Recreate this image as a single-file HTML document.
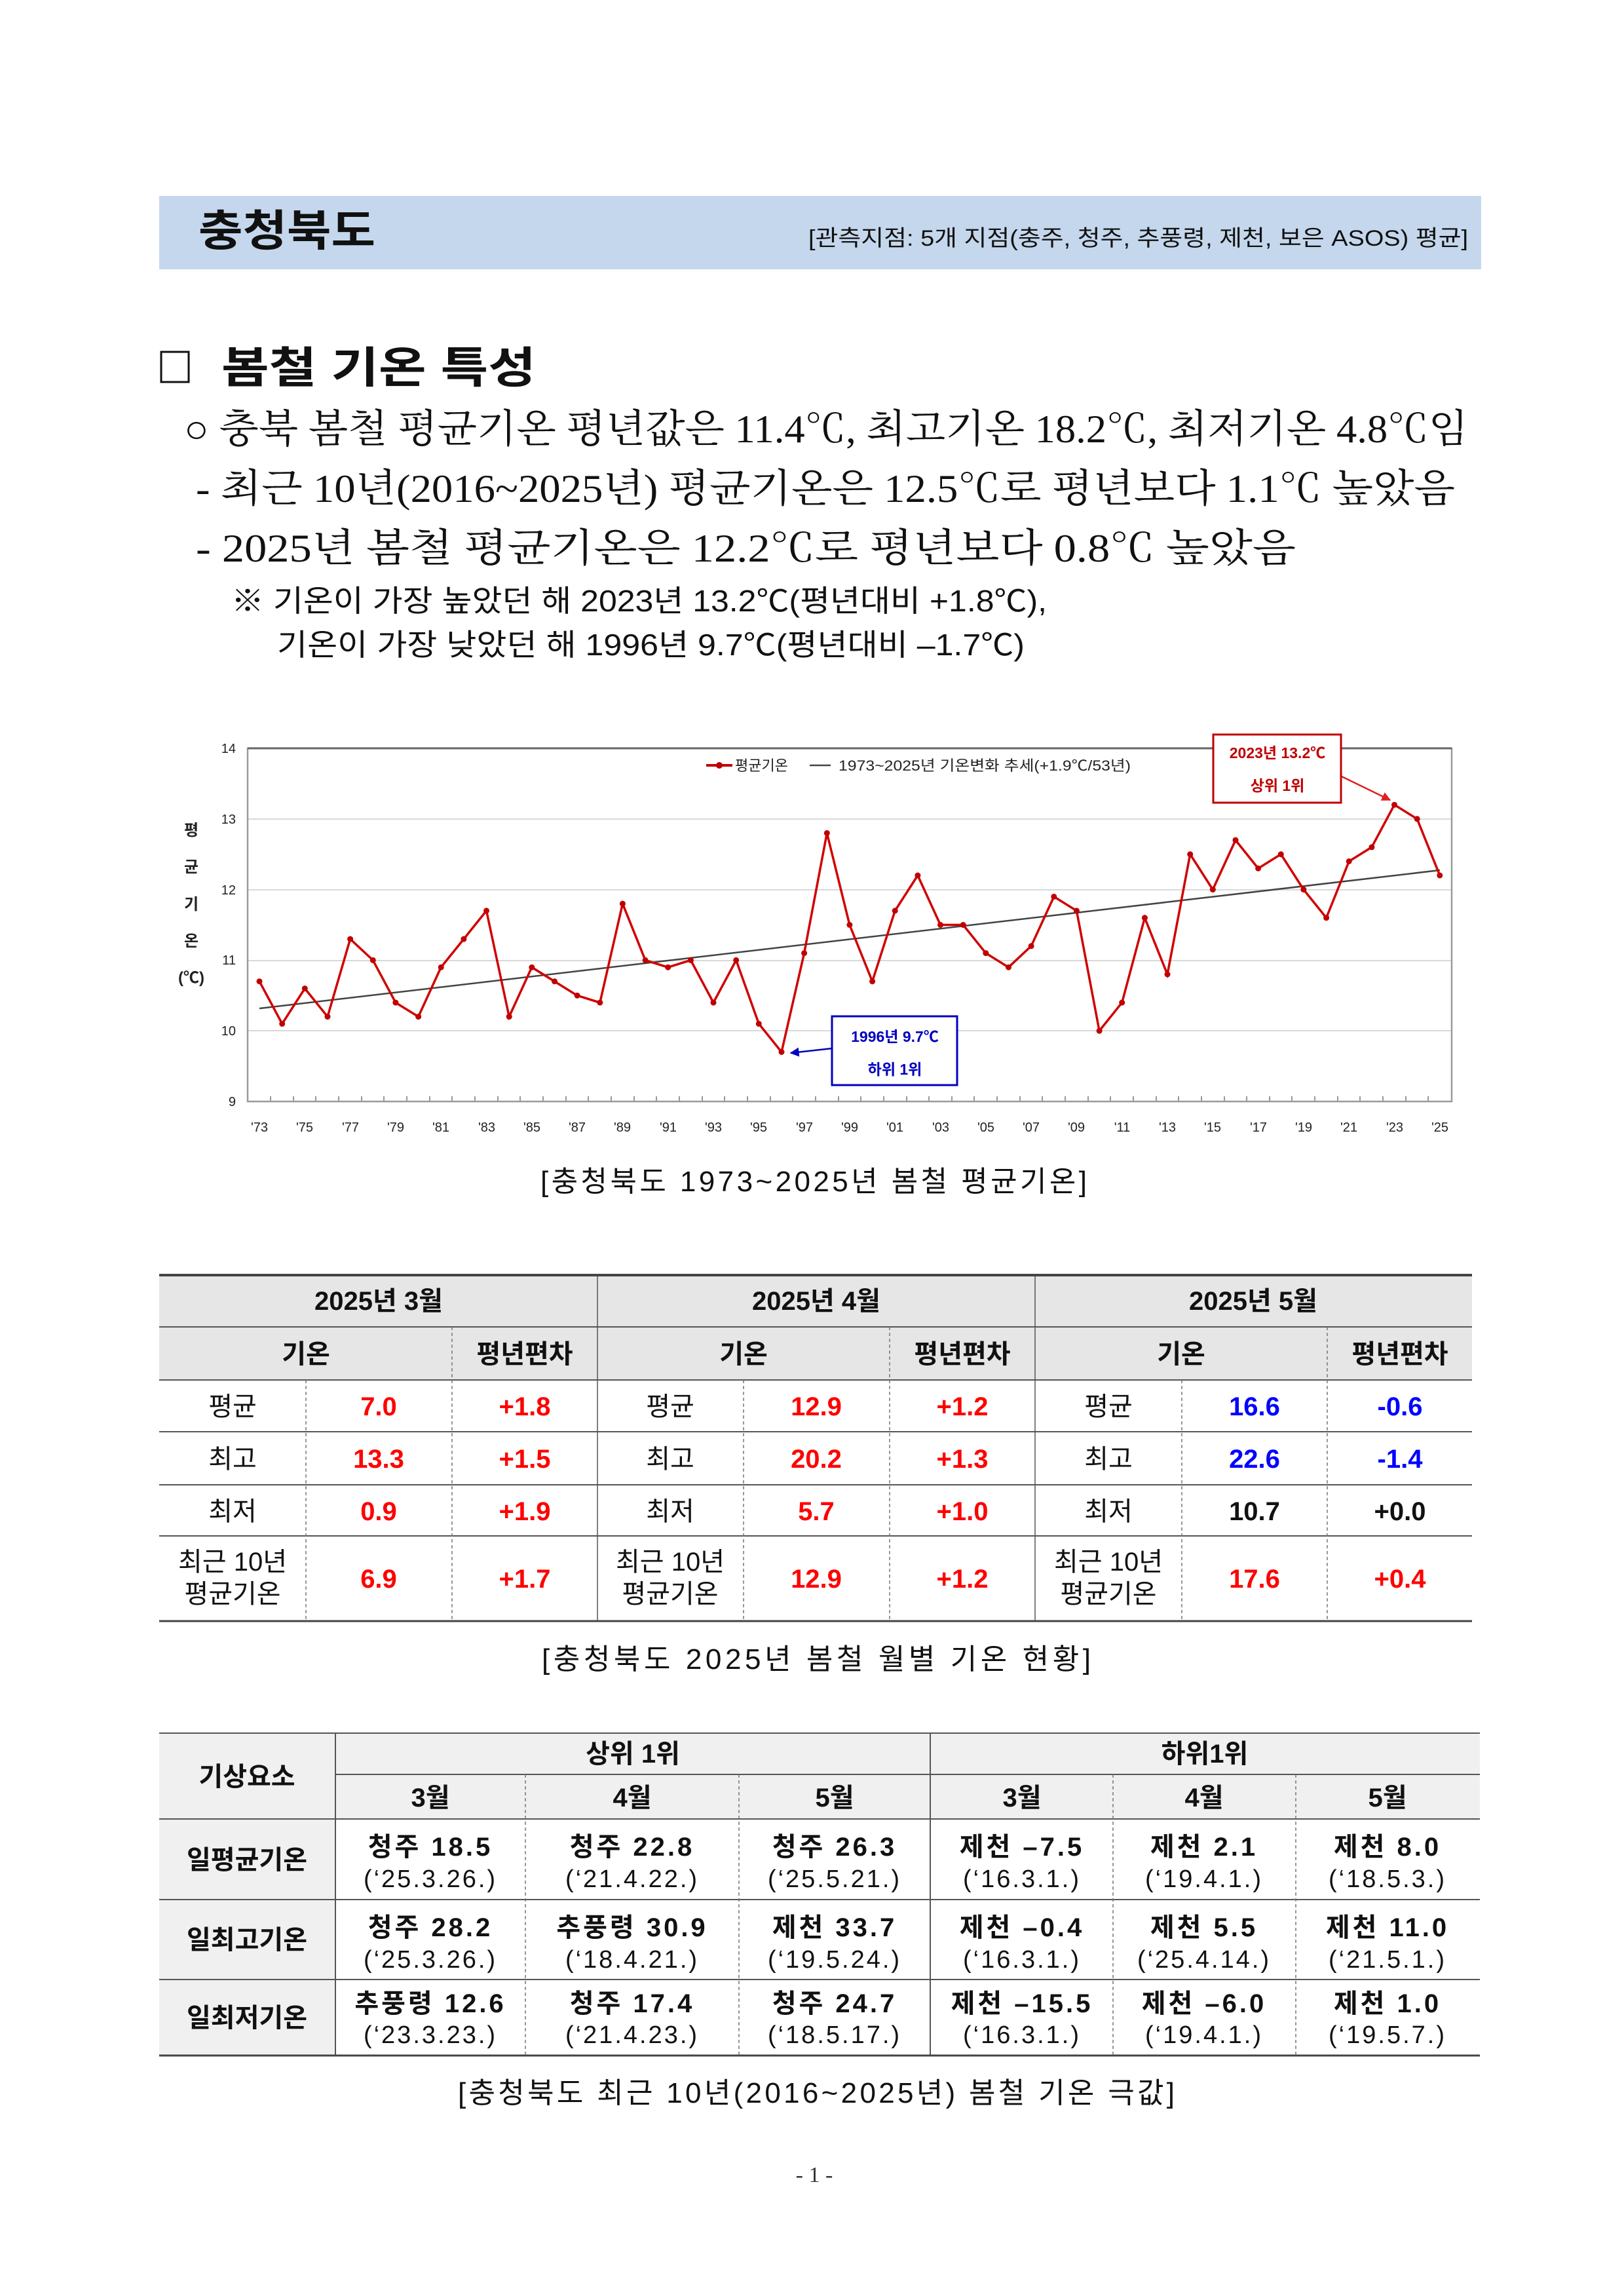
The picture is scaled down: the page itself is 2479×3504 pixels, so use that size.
<!DOCTYPE html>
<html><head><meta charset="utf-8"><style>
html,body{margin:0;padding:0;background:#fff}
svg{display:block}
.s{font-family:"Liberation Sans","Noto Sans CJK KR",sans-serif}
.r{font-family:"Liberation Serif","Noto Serif CJK SC",serif}
</style></head><body>
<svg width="2479" height="3504" viewBox="0 0 2479 3504" xmlns="http://www.w3.org/2000/svg" class="s">
<defs>
<marker id="m" viewBox="-6 -6 12 12" markerWidth="12" markerHeight="12" markerUnits="userSpaceOnUse"><circle r="4.5" fill="#c00000"/></marker>
<marker id="ar" viewBox="0 0 10 10" refX="9" refY="5" markerWidth="14" markerHeight="14" markerUnits="userSpaceOnUse" orient="auto"><path d="M0 0L10 5L0 10z" fill="#e02020"/></marker>
<marker id="ab" viewBox="0 0 10 10" refX="9" refY="5" markerWidth="14" markerHeight="14" markerUnits="userSpaceOnUse" orient="auto"><path d="M0 0L10 5L0 10z" fill="#0000c0"/></marker>
</defs>
<!-- header -->
<rect x="243" y="299" width="2018" height="112" fill="#c5d7ec"/>
<text x="303" y="375" font-size="66" font-weight="bold" fill="#111" textLength="270" lengthAdjust="spacingAndGlyphs">충청북도</text>
<text x="1234" y="375" font-size="34" fill="#111" textLength="1007" lengthAdjust="spacingAndGlyphs">[관측지점: 5개 지점(충주, 청주, 추풍령, 제천, 보은 ASOS) 평균]</text>

<rect x="246" y="537" width="42" height="46" fill="none" stroke="#111" stroke-width="3"/>
<text x="338" y="584" font-size="66" font-weight="bold" fill="#111" textLength="480" lengthAdjust="spacingAndGlyphs">봄철 기온 특성</text>
<g class="r" fill="#111">
<text x="281" y="675" font-size="60" textLength="1960" lengthAdjust="spacingAndGlyphs">○  충북 봄철 평균기온 평년값은 11.4℃, 최고기온 18.2℃, 최저기온 4.8℃임</text>
<text x="299" y="766" font-size="60" textLength="1922" lengthAdjust="spacingAndGlyphs">-  최근 10년(2016~2025년) 평균기온은 12.5℃로 평년보다 1.1℃ 높았음</text>
<text x="299" y="857" font-size="60" textLength="1679" lengthAdjust="spacingAndGlyphs">-  2025년 봄철 평균기온은 12.2℃로 평년보다 0.8℃ 높았음</text>
</g>
<text x="353" y="933" font-size="46" fill="#111" textLength="1245" lengthAdjust="spacingAndGlyphs">※ 기온이 가장 높았던 해 2023년 13.2℃(평년대비 +1.8℃),</text>
<text x="423" y="1000" font-size="46" fill="#111" textLength="1141" lengthAdjust="spacingAndGlyphs">기온이 가장 낮았던 해 1996년 9.7℃(평년대비 –1.7℃)</text>

<!-- chart -->
<g stroke="#d9d9d9" stroke-width="2">
<line x1="378" y1="1250" x2="2216" y2="1250"/><line x1="378" y1="1358" x2="2216" y2="1358"/>
<line x1="378" y1="1466" x2="2216" y2="1466"/><line x1="378" y1="1573" x2="2216" y2="1573"/>
</g>
<rect x="378" y="1142" width="1838" height="539" fill="none" stroke="#9a9a9a" stroke-width="2.5"/>
<line x1="378" y1="1142" x2="2216" y2="1142" stroke="#666" stroke-width="3"/>
<g font-size="20" text-anchor="end" fill="#222">
<text x="360" y="1149">14</text><text x="360" y="1257">13</text><text x="360" y="1365">12</text>
<text x="360" y="1472">11</text><text x="360" y="1580">10</text><text x="360" y="1688">9</text>
</g>
<g font-size="24" font-weight="bold" text-anchor="middle" fill="#222">
<text x="292" y="1275">평</text><text x="292" y="1331">균</text><text x="292" y="1388">기</text><text x="292" y="1444">온</text><text x="292" y="1500">(℃)</text>
</g>
<path stroke="#999" stroke-width="2" d="M413 1681v-8M448 1681v-8M482 1681v-8M517 1681v-8M552 1681v-8M586 1681v-8M621 1681v-8M656 1681v-8M690 1681v-8M725 1681v-8M760 1681v-8M794 1681v-8M829 1681v-8M864 1681v-8M898 1681v-8M933 1681v-8M968 1681v-8M1002 1681v-8M1037 1681v-8M1072 1681v-8M1106 1681v-8M1141 1681v-8M1176 1681v-8M1210 1681v-8M1245 1681v-8M1280 1681v-8M1314 1681v-8M1349 1681v-8M1384 1681v-8M1418 1681v-8M1453 1681v-8M1487 1681v-8M1522 1681v-8M1557 1681v-8M1591 1681v-8M1626 1681v-8M1661 1681v-8M1695 1681v-8M1730 1681v-8M1765 1681v-8M1799 1681v-8M1834 1681v-8M1869 1681v-8M1903 1681v-8M1938 1681v-8M1972 1681v-8M2007 1681v-8M2042 1681v-8M2076 1681v-8M2111 1681v-8M2146 1681v-8M2180 1681v-8"/>
<g font-size="20" text-anchor="middle" fill="#222">
<text x="396" y="1727">'73</text><text x="465" y="1727">'75</text><text x="535" y="1727">'77</text><text x="604" y="1727">'79</text><text x="673" y="1727">'81</text><text x="743" y="1727">'83</text><text x="812" y="1727">'85</text><text x="881" y="1727">'87</text><text x="950" y="1727">'89</text><text x="1020" y="1727">'91</text><text x="1089" y="1727">'93</text><text x="1158" y="1727">'95</text><text x="1228" y="1727">'97</text><text x="1297" y="1727">'99</text><text x="1366" y="1727">'01</text><text x="1436" y="1727">'03</text><text x="1505" y="1727">'05</text><text x="1574" y="1727">'07</text><text x="1643" y="1727">'09</text><text x="1713" y="1727">'11</text><text x="1782" y="1727">'13</text><text x="1851" y="1727">'15</text><text x="1921" y="1727">'17</text><text x="1990" y="1727">'19</text><text x="2059" y="1727">'21</text><text x="2129" y="1727">'23</text><text x="2198" y="1727">'25</text>
</g>
<line x1="396" y1="1539" x2="2198" y2="1328" stroke="#444" stroke-width="2.5"/>
<polyline fill="none" stroke="#d00000" stroke-width="3.5" marker-start="url(#m)" marker-mid="url(#m)" marker-end="url(#m)" points="396,1497.7 430.7,1562.4 465.3,1508.5 500,1551.6 534.6,1433.1 569.3,1465.4 603.9,1530.1 638.6,1551.6 673.2,1476.2 707.9,1433.1 742.5,1389.9 777.2,1551.6 811.8,1476.2 846.5,1497.7 881.1,1519.3 915.8,1530.1 950.4,1379.2 985.1,1465.4 1019.7,1476.2 1054.4,1465.4 1089,1530.1 1123.7,1465.4 1158.3,1562.4 1193,1605.5 1227.6,1454.6 1262.3,1271.4 1296.9,1411.5 1331.6,1497.7 1366.2,1389.9 1400.9,1336 1435.5,1411.5 1470.2,1411.5 1504.8,1454.6 1539.5,1476.2 1574.1,1443.8 1608.8,1368.4 1643.4,1389.9 1678.1,1573.2 1712.7,1530.1 1747.4,1400.7 1782,1487 1816.7,1303.7 1851.3,1357.6 1886,1282.1 1920.6,1325.3 1955.3,1303.7 1989.9,1357.6 2024.6,1400.7 2059.2,1314.5 2093.9,1292.9 2128.5,1228.2 2163.2,1249.8 2197.8,1336"/>
<!-- legend -->
<line x1="1078" y1="1168" x2="1118" y2="1168" stroke="#c00000" stroke-width="4"/><circle cx="1098" cy="1168" r="5" fill="#c00000"/>
<text x="1122" y="1176" font-size="22" fill="#222">평균기온</text>
<line x1="1236" y1="1168" x2="1268" y2="1168" stroke="#444" stroke-width="2.5"/>
<text x="1280" y="1176" font-size="22" fill="#222" textLength="446" lengthAdjust="spacingAndGlyphs">1973~2025년 기온변화 추세(+1.9℃/53년)</text>
<!-- annotations -->
<rect x="1852" y="1121" width="195" height="104" fill="#fff" stroke="#c00000" stroke-width="3"/>
<text x="1950" y="1157" font-size="23" font-weight="bold" fill="#c00000" text-anchor="middle">2023년 13.2℃</text>
<text x="1950" y="1207" font-size="23" font-weight="bold" fill="#c00000" text-anchor="middle">상위 1위</text>
<line x1="2048" y1="1185" x2="2122" y2="1221" stroke="#e02020" stroke-width="2.5" marker-end="url(#ar)"/>
<rect x="1270" y="1551" width="191" height="105" fill="#fff" stroke="#0000c0" stroke-width="3"/>
<text x="1366" y="1590" font-size="23" font-weight="bold" fill="#0000c0" text-anchor="middle">1996년 9.7℃</text>
<text x="1366" y="1640" font-size="23" font-weight="bold" fill="#0000c0" text-anchor="middle">하위 1위</text>
<line x1="1270" y1="1600" x2="1207" y2="1607" stroke="#0000c0" stroke-width="2.5" marker-end="url(#ab)"/>
<text x="825" y="1818" font-size="44" fill="#111" textLength="834" lengthAdjust="spacing">[충청북도 1973~2025년 봄철 평균기온]</text>

<!-- table 1 -->
<rect x="243" y="1946" width="2004" height="160" fill="#e6e6e6"/>
<g stroke="#555" stroke-width="2">
<line x1="243" y1="2025" x2="2247" y2="2025"/><line x1="243" y1="2106" x2="2247" y2="2106"/>
<line x1="243" y1="2185" x2="2247" y2="2185"/><line x1="243" y1="2266" x2="2247" y2="2266"/><line x1="243" y1="2344" x2="2247" y2="2344"/>
<line x1="912" y1="1946" x2="912" y2="2474" stroke-width="1.5"/><line x1="1580" y1="1946" x2="1580" y2="2474" stroke-width="1.5"/>
</g>
<line x1="243" y1="1946" x2="2247" y2="1946" stroke="#444" stroke-width="4"/>
<line x1="243" y1="2474" x2="2247" y2="2474" stroke="#444" stroke-width="3"/>
<g stroke="#777" stroke-width="1.5" stroke-dasharray="5,4">
<line x1="690" y1="2025" x2="690" y2="2474"/><line x1="467" y1="2106" x2="467" y2="2474"/>
<line x1="1358" y1="2025" x2="1358" y2="2474"/><line x1="1135" y1="2106" x2="1135" y2="2474"/>
<line x1="2026" y1="2025" x2="2026" y2="2474"/><line x1="1804" y1="2106" x2="1804" y2="2474"/>
</g>
<g font-size="40" text-anchor="middle" font-weight="bold" fill="#111">
<text x="578" y="1999">2025년  3월</text><text x="1246" y="1999">2025년  4월</text><text x="1913" y="1999">2025년  5월</text>
<text x="467" y="2080">기온</text><text x="801" y="2080">평년편차</text>
<text x="1135" y="2080">기온</text><text x="1469" y="2080">평년편차</text>
<text x="1803" y="2080">기온</text><text x="2137" y="2080">평년편차</text>
</g>
<g font-size="40" text-anchor="middle" fill="#111">
<text x="355" y="2160">평균</text><text x="355" y="2240">최고</text><text x="355" y="2320">최저</text>
<text x="355" y="2397">최근 10년</text><text x="355" y="2446">평균기온</text>
<text x="1023" y="2160">평균</text><text x="1023" y="2240">최고</text><text x="1023" y="2320">최저</text>
<text x="1023" y="2397">최근 10년</text><text x="1023" y="2446">평균기온</text>
<text x="1692" y="2160">평균</text><text x="1692" y="2240">최고</text><text x="1692" y="2320">최저</text>
<text x="1692" y="2397">최근 10년</text><text x="1692" y="2446">평균기온</text>
</g>
<g font-size="40" text-anchor="middle" font-weight="bold" fill="#ff0000">
<text x="578" y="2160">7.0</text><text x="801" y="2160">+1.8</text>
<text x="578" y="2240">13.3</text><text x="801" y="2240">+1.5</text>
<text x="578" y="2320">0.9</text><text x="801" y="2320">+1.9</text>
<text x="578" y="2423">6.9</text><text x="801" y="2423">+1.7</text>
<text x="1246" y="2160">12.9</text><text x="1469" y="2160">+1.2</text>
<text x="1246" y="2240">20.2</text><text x="1469" y="2240">+1.3</text>
<text x="1246" y="2320">5.7</text><text x="1469" y="2320">+1.0</text>
<text x="1246" y="2423">12.9</text><text x="1469" y="2423">+1.2</text>
<text x="1915" y="2423">17.6</text><text x="2137" y="2423">+0.4</text>
</g>
<g font-size="40" text-anchor="middle" font-weight="bold" fill="#0000ff">
<text x="1915" y="2160">16.6</text><text x="2137" y="2160">-0.6</text>
<text x="1915" y="2240">22.6</text><text x="2137" y="2240">-1.4</text>
</g>
<g font-size="40" text-anchor="middle" font-weight="bold" fill="#111">
<text x="1915" y="2320">10.7</text><text x="2137" y="2320">+0.0</text>
</g>
<text x="827" y="2547" font-size="44" fill="#111" textLength="838" lengthAdjust="spacing">[충청북도 2025년 봄철 월별 기온 현황]</text>

<!-- table 2 -->
<rect x="243" y="2645" width="2016" height="131" fill="#f0f0f0"/>
<rect x="243" y="2776" width="269" height="361" fill="#f0f0f0"/>
<g stroke="#555" stroke-width="2">
<line x1="512" y1="2708" x2="2259" y2="2708"/><line x1="243" y1="2776" x2="2259" y2="2776"/>
<line x1="243" y1="2899" x2="2259" y2="2899"/><line x1="243" y1="3021" x2="2259" y2="3021"/>
<line x1="512" y1="2645" x2="512" y2="3137"/><line x1="1420" y1="2645" x2="1420" y2="3137"/>
</g>
<line x1="243" y1="2645" x2="2259" y2="2645" stroke="#555" stroke-width="2"/>
<line x1="243" y1="3137" x2="2259" y2="3137" stroke="#444" stroke-width="3"/>
<g stroke="#777" stroke-width="1.5" stroke-dasharray="5,4">
<line x1="802" y1="2708" x2="802" y2="3137"/><line x1="1128" y1="2708" x2="1128" y2="3137"/>
<line x1="1699" y1="2708" x2="1699" y2="3137"/><line x1="1978" y1="2708" x2="1978" y2="3137"/>
</g>
<g font-size="40" text-anchor="middle" font-weight="bold" fill="#111">
<text x="377" y="2725">기상요소</text>
<text x="966" y="2690">상위 1위</text><text x="1839" y="2690">하위1위</text>
<text x="657" y="2757">3월</text><text x="965" y="2757">4월</text><text x="1274" y="2757">5월</text>
<text x="1560" y="2757">3월</text><text x="1838" y="2757">4월</text><text x="2118" y="2757">5월</text>
<text x="377" y="2852">일평균기온</text><text x="377" y="2974">일최고기온</text><text x="377" y="3093">일최저기온</text>
</g>
<g font-size="40" text-anchor="middle" font-weight="bold" fill="#111" letter-spacing="4">
<text x="657" y="2832">청주  18.5</text><text x="965" y="2832">청주  22.8</text><text x="1274" y="2832">청주  26.3</text>
<text x="1560" y="2832">제천  –7.5</text><text x="1838" y="2832">제천  2.1</text><text x="2118" y="2832">제천  8.0</text>
<text x="657" y="2955">청주  28.2</text><text x="965" y="2955">추풍령  30.9</text><text x="1274" y="2955">제천  33.7</text>
<text x="1560" y="2955">제천  –0.4</text><text x="1838" y="2955">제천  5.5</text><text x="2118" y="2955">제천  11.0</text>
<text x="657" y="3071">추풍령 12.6</text><text x="965" y="3071">청주  17.4</text><text x="1274" y="3071">청주  24.7</text>
<text x="1560" y="3071">제천  –15.5</text><text x="1838" y="3071">제천  –6.0</text><text x="2118" y="3071">제천  1.0</text>
</g>
<g font-size="38" text-anchor="middle" fill="#111" letter-spacing="3">
<text x="657" y="2880">(‘25.3.26.)</text><text x="965" y="2880">(‘21.4.22.)</text><text x="1274" y="2880">(‘25.5.21.)</text>
<text x="1560" y="2880">(‘16.3.1.)</text><text x="1838" y="2880">(‘19.4.1.)</text><text x="2118" y="2880">(‘18.5.3.)</text>
<text x="657" y="3003">(‘25.3.26.)</text><text x="965" y="3003">(‘18.4.21.)</text><text x="1274" y="3003">(‘19.5.24.)</text>
<text x="1560" y="3003">(‘16.3.1.)</text><text x="1838" y="3003">(‘25.4.14.)</text><text x="2118" y="3003">(‘21.5.1.)</text>
<text x="657" y="3118">(‘23.3.23.)</text><text x="965" y="3118">(‘21.4.23.)</text><text x="1274" y="3118">(‘18.5.17.)</text>
<text x="1560" y="3118">(‘16.3.1.)</text><text x="1838" y="3118">(‘19.4.1.)</text><text x="2118" y="3118">(‘19.5.7.)</text>
</g>
<text x="699" y="3209" font-size="44" fill="#111" textLength="1094" lengthAdjust="spacing">[충청북도 최근 10년(2016~2025년) 봄철 기온 극값]</text>
<text x="1243" y="3330" font-size="34" text-anchor="middle" fill="#333" class="r">- 1 -</text>
</svg>
</body></html>
